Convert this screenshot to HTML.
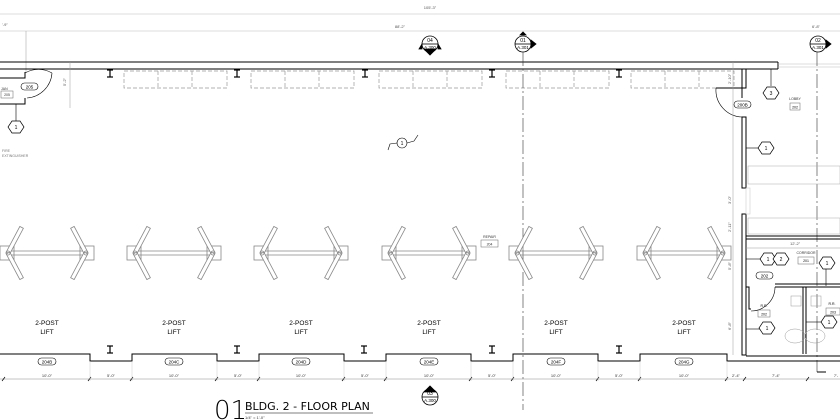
<!DOCTYPE html>
<html><head><meta charset="utf-8"><style>
html,body{margin:0;padding:0;background:#fff;width:840px;height:420px;overflow:hidden}
svg{display:block;font-family:"Liberation Sans",sans-serif}
</style></head><body>
<svg width="840" height="420" viewBox="0 0 840 420" xmlns="http://www.w3.org/2000/svg">
<defs>
<g id="lift" stroke="#888" stroke-width="0.8" fill="none">
  <rect x="-47" y="-7" width="14" height="14"/>
  <rect x="33" y="-7" width="14" height="14"/>
  <line x1="-39" y1="-2" x2="39" y2="-2"/>
  <line x1="-39" y1="2" x2="39" y2="2"/>
  <g transform="translate(-39,0) rotate(-62)"><rect x="0" y="-2" width="29" height="4" fill="#fff"/></g>
  <g transform="translate(-39,0) rotate(62)"><rect x="0" y="-2" width="29" height="4" fill="#fff"/></g>
  <g transform="translate(39,0) rotate(-118)"><rect x="0" y="-2" width="29" height="4" fill="#fff"/></g>
  <g transform="translate(39,0) rotate(118)"><rect x="0" y="-2" width="29" height="4" fill="#fff"/></g>
  <circle cx="-39" cy="0" r="2"/><circle cx="39" cy="0" r="2"/>
</g>
<g id="dash" stroke="#999" stroke-width="0.7" fill="none" stroke-dasharray="4,2">
  <rect x="0" y="0" width="103" height="17"/>
  <line x1="34" y1="0" x2="34" y2="17"/><line x1="68" y1="0" x2="68" y2="17"/>
</g>
<g id="ibeam" stroke="#000" stroke-width="1.2">
  <line x1="-3" y1="0" x2="3" y2="0"/><line x1="0" y1="0" x2="0" y2="7"/><line x1="-3" y1="7" x2="3" y2="7"/>
</g>
<g id="hex" stroke="#000" stroke-width="0.7" fill="#fff">
  <polygon points="-4,-6 4,-6 8,0 4,6 -4,6 -8,0"/>
</g>
</defs>

<!-- top dims -->
<line x1="0" y1="14" x2="840" y2="14" stroke="#ddd" stroke-width="1"/>
<text x="430" y="9" font-size="4" fill="#555" text-anchor="middle">105'-3"</text>
<line x1="0" y1="31" x2="840" y2="31" stroke="#bbb" stroke-width="0.6"/>
<text x="400" y="28" font-size="4" fill="#555" text-anchor="middle">88'-2"</text>
<text x="2" y="26" font-size="4" fill="#555">'-9"</text>
<text x="812" y="28" font-size="4" fill="#555">6'-8"</text>
<line x1="26" y1="31" x2="26" y2="72" stroke="#999" stroke-width="0.5"/>

<!-- top wall -->
<line x1="0" y1="62" x2="778" y2="62" stroke="#000" stroke-width="1"/>
<line x1="0" y1="69" x2="778" y2="69" stroke="#000" stroke-width="1"/>
<line x1="778" y1="62" x2="778" y2="69" stroke="#000" stroke-width="1"/>
<line x1="778" y1="64" x2="840" y2="64" stroke="#bbb" stroke-width="0.6"/>
<line x1="778" y1="67" x2="840" y2="67" stroke="#bbb" stroke-width="0.6"/>

<use href="#ibeam" x="110" y="70"/><use href="#ibeam" x="237" y="70"/><use href="#ibeam" x="365" y="70"/><use href="#ibeam" x="492" y="70"/><use href="#ibeam" x="619" y="70"/>
<use href="#dash" x="124" y="71"/><use href="#dash" x="251" y="71"/><use href="#dash" x="379" y="71"/><use href="#dash" x="506" y="71"/><use href="#dash" x="631" y="71"/>

<!-- left jan -->
<g stroke="#000" stroke-width="1" fill="none">
  <polyline points="0,78 25,78 25,72"/>
  <polyline points="0,104 25,104 25,98"/>
  <path d="M25,73 A27,27 0 0 1 52,73" stroke-width="0.6"/>
  <path d="M52,73 A27,27 0 0 1 27,98" stroke-width="0.6"/>
</g>
<rect x="1" y="91" width="12" height="7" fill="none" stroke="#666" stroke-width="0.5"/>
<text x="7" y="96" font-size="3.5" text-anchor="middle" fill="#333">205</text>
<text x="1" y="90" font-size="3.5" fill="#333">JAN</text>
<rect x="21" y="83" width="17" height="7" rx="3.5" fill="none" stroke="#000" stroke-width="0.6"/>
<text x="29.5" y="88.5" font-size="4.5" text-anchor="middle">205</text>
<line x1="70" y1="62" x2="70" y2="108" stroke="#999" stroke-width="0.5"/>
<text x="66" y="86" font-size="4" fill="#555" transform="rotate(-90 66 86)">5'-2"</text>
<line x1="16" y1="104" x2="16" y2="122" stroke="#000" stroke-width="0.6"/>
<use href="#hex" x="16" y="127"/><text x="16" y="129" font-size="5" text-anchor="middle">1</text>
<text x="2" y="152" font-size="3.5" fill="#777">FIRE</text>
<text x="2" y="157" font-size="3.5" fill="#777">EXTINGUISHER</text>

<!-- center tag -->
<circle cx="402" cy="143" r="5" fill="none" stroke="#000" stroke-width="0.6"/><text x="402" y="145" font-size="5" text-anchor="middle">1</text>
<path d="M388,150 L390,144 L397,143 M407,143 L414,141 L418,135" stroke="#000" stroke-width="0.6" fill="none"/>

<!-- section markers -->
<g stroke="#000" stroke-width="0.8">
  <circle cx="430" cy="44" r="8" fill="#fff"/>
  <line x1="422" y1="44" x2="438" y2="44"/>
  <polygon points="424,49 436,49 430,55" fill="#000"/>
  <polygon points="419,49 422,44 422,49" fill="#000"/><polygon points="441,49 438,44 438,49" fill="#000"/>
  <circle cx="523" cy="44" r="8" fill="#fff"/>
  <line x1="515" y1="44" x2="531" y2="44"/>
  <polygon points="531,40 536,44 531,48" fill="#000"/><polygon points="520,35 523,32 526,35" fill="#000"/>
  <circle cx="818" cy="44" r="8" fill="#fff"/>
  <line x1="810" y1="44" x2="826" y2="44"/>
  <polygon points="826,40 831,44 826,48" fill="#000"/>
  <circle cx="430" cy="397" r="8" fill="#fff"/>
  <line x1="422" y1="397" x2="438" y2="397"/>
  <polygon points="424,392 436,392 430,386" fill="#000"/>
</g>
<text x="430" y="42" font-size="5" text-anchor="middle">04</text><text x="430" y="49" font-size="4.5" text-anchor="middle">A.300</text>
<text x="523" y="42" font-size="5" text-anchor="middle">01</text><text x="523" y="49" font-size="4.5" text-anchor="middle">A.301</text>
<text x="818" y="42" font-size="5" text-anchor="middle">02</text><text x="818" y="49" font-size="4.5" text-anchor="middle">A.301</text>
<text x="430" y="395" font-size="5" text-anchor="middle">03</text><text x="430" y="402" font-size="4.5" text-anchor="middle">A.300</text>

<!-- dash-dot lines -->
<line x1="523" y1="52" x2="523" y2="410" stroke="#333" stroke-width="0.6" stroke-dasharray="14,3,2,3"/>
<line x1="817" y1="52" x2="817" y2="372" stroke="#333" stroke-width="0.6" stroke-dasharray="14,3,2,3"/>
<line x1="817" y1="372" x2="826" y2="372" stroke="#000" stroke-width="1"/>

<!-- lifts -->
<use href="#lift" x="47" y="253"/><use href="#lift" x="174" y="253"/><use href="#lift" x="301" y="253"/>
<use href="#lift" x="429" y="253"/><use href="#lift" x="556" y="253"/><use href="#lift" x="684" y="253"/>
<g font-size="6.5" text-anchor="middle">
<text x="47" y="325">2-POST</text><text x="47" y="334">LIFT</text>
<text x="174" y="325">2-POST</text><text x="174" y="334">LIFT</text>
<text x="301" y="325">2-POST</text><text x="301" y="334">LIFT</text>
<text x="429" y="325">2-POST</text><text x="429" y="334">LIFT</text>
<text x="556" y="325">2-POST</text><text x="556" y="334">LIFT</text>
<text x="684" y="325">2-POST</text><text x="684" y="334">LIFT</text>
</g>
<rect x="481" y="240" width="17" height="7" fill="none" stroke="#666" stroke-width="0.5"/>
<text x="489.5" y="238" font-size="3.5" text-anchor="middle" fill="#333">REPAIR</text>
<text x="489.5" y="245.5" font-size="3.5" text-anchor="middle" fill="#333">204</text>

<!-- bottom wall -->
<g stroke="#000" stroke-width="1" fill="none">
<polyline points="0,354 90,354 90,361 132,361 132,354 217,354 217,361 259,361 259,354 344,354 344,361 386,361 386,354 471,354 471,361 513,361 513,354 598,354 598,361 640,361 640,354 727,354 727,361 742,361"/>
<line x1="742" y1="361" x2="840" y2="361"/>
<line x1="746" y1="356" x2="840" y2="356"/>
</g>
<use href="#ibeam" x="110" y="346"/><use href="#ibeam" x="237" y="346"/><use href="#ibeam" x="364" y="346"/><use href="#ibeam" x="492" y="346"/><use href="#ibeam" x="619" y="346"/>
<g fill="none" stroke="#000" stroke-width="0.6">
<rect x="38" y="358" width="18" height="7" rx="3.5"/><rect x="165" y="358" width="18" height="7" rx="3.5"/><rect x="292" y="358" width="18" height="7" rx="3.5"/>
<rect x="420" y="358" width="18" height="7" rx="3.5"/><rect x="547" y="358" width="18" height="7" rx="3.5"/><rect x="675" y="358" width="18" height="7" rx="3.5"/>
</g>
<g font-size="4.5" text-anchor="middle">
<text x="47" y="363.5">204B</text><text x="174" y="363.5">204C</text><text x="301" y="363.5">204D</text>
<text x="429" y="363.5">204E</text><text x="556" y="363.5">204F</text><text x="684" y="363.5">204G</text>
</g>
<line x1="0" y1="379" x2="840" y2="379" stroke="#888" stroke-width="0.5"/>
<g stroke="#000" stroke-width="0.7">
<line x1="2" y1="381" x2="5" y2="377"/><line x1="88" y1="381" x2="91" y2="377"/><line x1="130" y1="381" x2="133" y2="377"/>
<line x1="215" y1="381" x2="218" y2="377"/><line x1="257" y1="381" x2="260" y2="377"/><line x1="342" y1="381" x2="345" y2="377"/>
<line x1="384" y1="381" x2="387" y2="377"/><line x1="469" y1="381" x2="472" y2="377"/><line x1="511" y1="381" x2="514" y2="377"/>
<line x1="596" y1="381" x2="599" y2="377"/><line x1="638" y1="381" x2="641" y2="377"/><line x1="725" y1="381" x2="728" y2="377"/>
<line x1="743" y1="381" x2="746" y2="377"/><line x1="806" y1="381" x2="809" y2="377"/>
</g>
<g stroke="#bbb" stroke-width="0.4">
<line x1="90" y1="361" x2="90" y2="381"/><line x1="132" y1="361" x2="132" y2="381"/><line x1="217" y1="361" x2="217" y2="381"/><line x1="259" y1="361" x2="259" y2="381"/>
<line x1="344" y1="361" x2="344" y2="381"/><line x1="386" y1="361" x2="386" y2="381"/><line x1="471" y1="361" x2="471" y2="381"/><line x1="513" y1="361" x2="513" y2="381"/>
<line x1="598" y1="361" x2="598" y2="381"/><line x1="640" y1="361" x2="640" y2="381"/><line x1="727" y1="361" x2="727" y2="381"/>
</g>
<g font-size="4" text-anchor="middle" fill="#333">
<text x="47" y="377">10'-0"</text><text x="111" y="377">5'-0"</text><text x="174" y="377">10'-0"</text><text x="238" y="377">5'-0"</text>
<text x="301" y="377">10'-0"</text><text x="365" y="377">5'-0"</text><text x="429" y="377">10'-0"</text><text x="492" y="377">5'-0"</text>
<text x="556" y="377">10'-0"</text><text x="619" y="377">5'-0"</text><text x="684" y="377">10'-0"</text><text x="736" y="377">2'-4"</text>
<text x="776" y="377">7'-4"</text><text x="836" y="377">7'-</text>
</g>

<!-- right rooms -->
<g stroke="#000" stroke-width="1" fill="none">
<rect x="742" y="69" width="4" height="19"/>
<path d="M742,98 L742,88 L716,88"/>
<rect x="742" y="117" width="4" height="71"/>
<rect x="742" y="214" width="4" height="141"/>
<line x1="746" y1="236" x2="840" y2="236"/><line x1="746" y1="239" x2="840" y2="239"/>
<line x1="775" y1="284" x2="840" y2="284"/><line x1="775" y1="287" x2="840" y2="287"/>
<line x1="803" y1="287" x2="803" y2="354"/><line x1="806" y1="287" x2="806" y2="354"/>
<polyline points="746,287 749,287 749,309 751,309"/>
</g>
<path d="M716,88 A27,27 0 0 0 742,117" stroke="#000" stroke-width="0.6" fill="none"/>
<path d="M775,287 A24,24 0 0 1 751,311" stroke="#000" stroke-width="0.6" fill="none"/>
<rect x="746" y="188" width="4" height="26" fill="none" stroke="#ccc" stroke-width="0.6"/>
<rect x="748" y="166" width="92" height="18" fill="none" stroke="#aaa" stroke-width="0.5"/>
<rect x="748" y="218" width="92" height="16" fill="none" stroke="#aaa" stroke-width="0.5"/>
<rect x="790" y="103" width="10" height="7" fill="none" stroke="#666" stroke-width="0.5"/>
<text x="795" y="100" font-size="3.5" text-anchor="middle" fill="#333">LOBBY</text><text x="795" y="108.5" font-size="3.5" text-anchor="middle">202</text>
<rect x="798" y="257" width="16" height="7" fill="none" stroke="#666" stroke-width="0.5"/>
<text x="806" y="254" font-size="3.5" text-anchor="middle" fill="#333">CORRIDOR</text><text x="806" y="262" font-size="3.5" text-anchor="middle">201</text>
<rect x="758" y="310" width="12" height="7" fill="none" stroke="#666" stroke-width="0.5"/>
<text x="764" y="307" font-size="3.5" text-anchor="middle">R.R.</text><text x="764" y="315.5" font-size="3.5" text-anchor="middle">202</text>
<rect x="826" y="308" width="14" height="7" fill="none" stroke="#666" stroke-width="0.5"/>
<text x="832" y="305" font-size="3.5" text-anchor="middle">R.R.</text><text x="833" y="313.5" font-size="3.5" text-anchor="middle">203</text>
<rect x="791" y="296" width="10" height="10" fill="none" stroke="#999" stroke-width="0.5"/>
<rect x="811" y="296" width="10" height="10" fill="none" stroke="#999" stroke-width="0.5"/>
<ellipse cx="795" cy="336" rx="10" ry="7" fill="none" stroke="#999" stroke-width="0.5"/>
<ellipse cx="815" cy="336" rx="10" ry="7" fill="none" stroke="#999" stroke-width="0.5"/>
<rect x="734" y="101" width="17" height="7" rx="3.5" fill="none" stroke="#000" stroke-width="0.6"/><text x="742.5" y="106.5" font-size="4.5" text-anchor="middle">200B</text>
<rect x="756" y="272" width="17" height="7" rx="3.5" fill="none" stroke="#000" stroke-width="0.6"/><text x="764.5" y="277.5" font-size="4.5" text-anchor="middle">202</text>
<g stroke="#000" stroke-width="0.6">
<line x1="771" y1="69" x2="771" y2="86"/><line x1="746" y1="148" x2="760" y2="148"/><line x1="746" y1="259" x2="760" y2="259"/>
<line x1="746" y1="329" x2="760" y2="329"/><line x1="826" y1="269" x2="826" y2="286"/><line x1="806" y1="322" x2="822" y2="322"/>
</g>
<use href="#hex" x="771" y="93"/><text x="771" y="95" font-size="5" text-anchor="middle">3</text>
<use href="#hex" x="766" y="148"/><text x="766" y="150" font-size="5" text-anchor="middle">1</text>
<use href="#hex" x="768" y="259"/><text x="768" y="261" font-size="5" text-anchor="middle">1</text>
<use href="#hex" x="781" y="259"/><text x="781" y="261" font-size="5" text-anchor="middle">2</text>
<use href="#hex" x="767" y="328"/><text x="767" y="330" font-size="5" text-anchor="middle">1</text>
<use href="#hex" x="827" y="263"/><text x="827" y="265" font-size="5" text-anchor="middle">1</text>
<use href="#hex" x="829" y="322"/><text x="829" y="324" font-size="5" text-anchor="middle">1</text>
<line x1="733" y1="62" x2="733" y2="355" stroke="#999" stroke-width="0.5"/>
<g font-size="4" fill="#555">
<text x="731" y="84" transform="rotate(-90 731 84)">2'-10"</text>
<text x="731" y="204" transform="rotate(-90 731 204)">3'-0"</text>
<text x="731" y="232" transform="rotate(-90 731 232)">2'-11"</text>
<text x="731" y="270" transform="rotate(-90 731 270)">5'-8"</text>
<text x="731" y="330" transform="rotate(-90 731 330)">6'-8"</text>
<text x="790" y="245">12'-2"</text>
</g>
<line x1="746" y1="248" x2="840" y2="248" stroke="#999" stroke-width="0.5"/>

<!-- title -->
<text x="214" y="419" font-size="26" font-family="'DejaVu Sans',sans-serif" font-weight="200">01</text>
<text x="245" y="410" font-size="11" font-family="'DejaVu Sans',sans-serif">BLDG. 2 - FLOOR PLAN</text>
<line x1="245" y1="413" x2="373" y2="413" stroke="#000" stroke-width="0.6"/>
<text x="245" y="419" font-size="4" fill="#333">1/4" = 1'-0"</text>
</svg>
</body></html>
